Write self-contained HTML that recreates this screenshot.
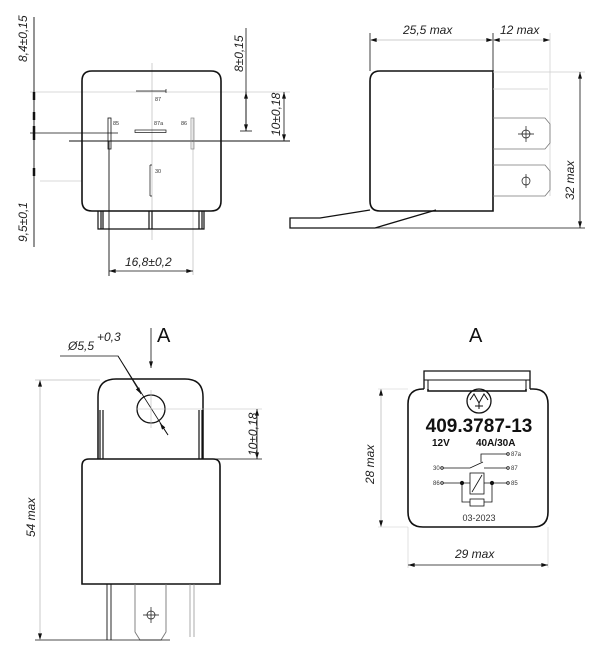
<!DOCTYPE html>
<html><head><meta charset="utf-8"><style>
html,body{margin:0;padding:0;background:#fff;}
svg{display:block;font-family:"Liberation Sans",sans-serif;}
.t{font-style:italic;font-size:12px;fill:#222;}
</style></head><body>
<svg width="600" height="658" viewBox="0 0 600 658" xmlns="http://www.w3.org/2000/svg">
<defs>
<marker id="a" viewBox="0 0 10 6" refX="10" refY="3" markerWidth="10" markerHeight="4" orient="auto-start-reverse" markerUnits="userSpaceOnUse"><path d="M0,0 L10,3 L0,6z" fill="#111"/></marker>
</defs>
<g fill="none" stroke="#111">
<!-- TOP LEFT -->
<line x1="30" y1="92" x2="290" y2="92" stroke="#ccc" stroke-width="0.7"/>
<line x1="40" y1="181" x2="82" y2="181" stroke="#ccc" stroke-width="0.7"/>
<line x1="152" y1="63" x2="152" y2="240" stroke="#bbb" stroke-width="0.7"/>
<line x1="193" y1="118" x2="193" y2="275" stroke="#bbb" stroke-width="0.7"/>
<path d="M92,71 H211 Q221,71 221,81 V201 Q221,211 211,211 H92 Q82,211 82,201 V81 Q82,71 92,71Z" stroke-width="1.6"/>
<path d="M98,211 V229 H204 V211 M101,211 V229 M103,211 V229 M149,211 V229 M152,211 V229 M199,211 V229 M202,211 V229" stroke-width="1.2"/>
<line x1="69" y1="141" x2="290" y2="141" stroke-width="1"/>
<line x1="30" y1="133" x2="118" y2="133" stroke-width="0.8"/>
<rect x="108" y="118" width="3" height="31" stroke-width="0.8"/>
<rect x="191" y="118" width="3" height="31" stroke="#888" stroke-width="0.7"/>
<rect x="135" y="130" width="31" height="2.5" stroke-width="0.7"/>
<path d="M136,91 H166 M166,89 V93" stroke-width="0.7"/>
<path d="M150,165 V196 M150,165 h2 M150,196 h2" stroke-width="0.7"/>
<line x1="34" y1="17" x2="34" y2="247" stroke-width="0.9"/>
<line x1="34" y1="92" x2="34" y2="100" stroke-width="2.5"/>
<line x1="34" y1="112" x2="34" y2="120" stroke-width="2.5"/>
<line x1="34" y1="126" x2="34" y2="140" stroke-width="2.5"/>
<line x1="34" y1="168" x2="34" y2="176" stroke-width="2.5"/>
<line x1="246" y1="28" x2="246" y2="131" stroke-width="0.8"/>
<line x1="246" y1="92" x2="246" y2="131" stroke-width="0.8" marker-start="url(#a)" marker-end="url(#a)"/>
<line x1="240" y1="131" x2="252" y2="131" stroke-width="0.8"/>
<line x1="284" y1="92" x2="284" y2="141" stroke-width="0.8" marker-start="url(#a)" marker-end="url(#a)"/>
<line x1="109" y1="141" x2="109" y2="276" stroke-width="0.9"/>
<line x1="109" y1="271" x2="193" y2="271" stroke-width="0.8" marker-start="url(#a)" marker-end="url(#a)"/>
<!-- TOP RIGHT -->
<line x1="370" y1="33" x2="370" y2="71" stroke-width="0.8"/>
<line x1="493" y1="33" x2="493" y2="71" stroke-width="0.8"/>
<line x1="550" y1="33" x2="550" y2="196" stroke="#ccc" stroke-width="0.7"/>
<line x1="370" y1="40" x2="493" y2="40" stroke="#bbb" stroke-width="0.8" marker-start="url(#a)" marker-end="url(#a)"/>
<line x1="493" y1="40" x2="550" y2="40" stroke="#bbb" stroke-width="0.8" marker-start="url(#a)" marker-end="url(#a)"/>
<path d="M380,71 H493 V211 H380 Q370,211 370,201 V81 Q370,71 380,71Z" stroke-width="1.6"/>
<line x1="493" y1="72" x2="585" y2="72" stroke="#ccc" stroke-width="0.7"/>
<line x1="493" y1="89" x2="548" y2="89" stroke="#ccc" stroke-width="0.7"/>
<path d="M493,118 H545 L550,124 V143 L545,149 H493" stroke="#777" stroke-width="0.8"/>
<path d="M493,165 H545 L550,171 V190 L545,196 H493" stroke="#777" stroke-width="0.8"/>
<circle cx="526" cy="134" r="4" stroke-width="0.7"/><path d="M518,134 h16 M526,126 v16" stroke-width="0.7"/>
<circle cx="526" cy="181" r="4" stroke-width="0.7"/><path d="M526,174 v14" stroke-width="0.7"/>
<path d="M370,210 L320,218 H290 V228 H375 L436,210" stroke-width="1.3"/>
<line x1="375" y1="228" x2="585" y2="228" stroke-width="0.8"/>
<line x1="580" y1="72" x2="580" y2="228" stroke-width="0.8" marker-start="url(#a)" marker-end="url(#a)"/>
<!-- BOTTOM LEFT -->
<line x1="151" y1="328" x2="151" y2="368" stroke-width="0.8" marker-end="url(#a)"/>
<path d="M60,356 H118 L168,435" stroke-width="0.8"/>
<line x1="118" y1="356" x2="141" y2="394" stroke-width="0.8" marker-end="url(#a)"/>
<line x1="168" y1="435" x2="160" y2="423" stroke-width="0.8" marker-end="url(#a)"/>
<path d="M98,459 V397 Q98,379 116,379 H185 Q203,379 203,397 V459" stroke-width="1.5"/>
<path d="M100,410 V459 M103,410 V459 M199,410 V459 M202,410 V459" stroke-width="1.2"/>
<circle cx="151" cy="409" r="14" stroke-width="1.3"/>
<line x1="151" y1="390" x2="151" y2="428" stroke="#bbb" stroke-width="0.6"/>
<line x1="136" y1="409" x2="262" y2="409" stroke="#bbb" stroke-width="0.6"/>
<line x1="203" y1="459" x2="262" y2="459" stroke-width="0.8"/>
<line x1="257" y1="409" x2="257" y2="459" stroke-width="0.8" marker-start="url(#a)" marker-end="url(#a)"/>
<path d="M89,459 H213 Q220,459 220,466 V584 H82 V466 Q82,459 89,459Z" stroke-width="1.6"/>
<path d="M107,584 V640 M111,584 V640" stroke-width="0.9"/>
<path d="M135,584 V632 L140,640 H161 L166,632 V584" stroke="#777" stroke-width="0.9"/>
<path d="M190,584 V637 M194,584 V637" stroke="#888" stroke-width="0.7"/>
<circle cx="151" cy="615" r="4" stroke-width="0.7"/><path d="M143,615 h16 M151,607 v16" stroke-width="0.7"/>
<line x1="35" y1="380" x2="100" y2="380" stroke="#bbb" stroke-width="0.7"/>
<line x1="35" y1="640" x2="170" y2="640" stroke-width="0.8"/>
<line x1="40" y1="380" x2="40" y2="640" stroke="#bbb" stroke-width="0.8" marker-start="url(#a)" marker-end="url(#a)"/>
<!-- BOTTOM RIGHT -->
<path d="M424,389 V371 H530 V389" stroke-width="1.3"/>
<path d="M424,380 H530 M428,389 V380 M526,389 V380" stroke-width="1"/>
<path d="M424,389 H423 Q408,389 408,404 V512 Q408,527 423,527 H533 Q548,527 548,512 V404 Q548,389 533,389 H530 M428,389 V391 H526 V389" stroke-width="1.6"/>
<circle cx="479" cy="401" r="12" stroke-width="1.3"/>
<path d="M470,400 L474,394 L479,403 L484,394 L488,400 M479,403 V409 M475,406 H483" stroke-width="1"/>
<line x1="381" y1="389" x2="381" y2="527" stroke="#bbb" stroke-width="0.8" marker-start="url(#a)" marker-end="url(#a)"/>
<line x1="378" y1="389" x2="408" y2="389" stroke="#ccc" stroke-width="0.6"/>
<line x1="378" y1="527" x2="408" y2="527" stroke="#ccc" stroke-width="0.6"/>
<line x1="408" y1="527" x2="408" y2="568" stroke="#ccc" stroke-width="0.6"/>
<line x1="548" y1="527" x2="548" y2="568" stroke="#ccc" stroke-width="0.6"/>
<line x1="408" y1="565" x2="548" y2="565" stroke-width="0.8" marker-start="url(#a)" marker-end="url(#a)"/>
<g stroke-width="0.8">
<path d="M481,462 V454 H507 M443,468 H470 L483,462 M484,468 H507 M443,483 H470 M484,483 H507 M462,483 V502 H470 M492,483 V502 H484"/>
<rect x="470" y="473" width="14" height="21"/><path d="M472,492 L482,475"/>
<rect x="470" y="499" width="14" height="7"/>
<circle cx="442" cy="468" r="1.3"/><circle cx="508" cy="468" r="1.3"/><circle cx="508" cy="454" r="1.3"/><circle cx="442" cy="483" r="1.3"/><circle cx="508" cy="483" r="1.3"/>
</g>
<circle cx="462" cy="483" r="1.6" fill="#111"/><circle cx="492" cy="483" r="1.6" fill="#111"/>
</g>
<g>
<text class="t" transform="translate(27,62) rotate(-90)" font-size="13">8,4±0,15</text>
<text class="t" transform="translate(27,242) rotate(-90)" font-size="13">9,5±0,1</text>
<text class="t" transform="translate(243,72) rotate(-90)" font-size="13">8±0,15</text>
<text class="t" transform="translate(280,136) rotate(-90)" font-size="13">10±0,18</text>
<text class="t" x="125" y="266" font-size="13">16,8±0,2</text>
<text x="113" y="125" font-size="5.5" fill="#333">85</text>
<text x="155" y="101" font-size="5.5" fill="#333">87</text>
<text x="154" y="125" font-size="5.5" fill="#333">87a</text>
<text x="181" y="125" font-size="5.5" fill="#333">86</text>
<text x="155" y="173" font-size="5.5" fill="#333">30</text>
<text class="t" x="403" y="34" font-size="13">25,5 max</text>
<text class="t" x="500" y="34" font-size="13">12 max</text>
<text class="t" transform="translate(574,200) rotate(-90)" font-size="13">32 max</text>
<text x="157" y="342" font-size="20" fill="#111">A</text>
<text class="t" x="68" y="350" font-size="11">Ø5,5</text>
<text class="t" x="97" y="341" font-size="6">+0,3</text>
<text class="t" transform="translate(257,456) rotate(-90)" font-size="12">10±0,18</text>
<text class="t" transform="translate(35,537) rotate(-90)" font-size="13">54 max</text>
<text x="469" y="342" font-size="20" fill="#111">A</text>
<text x="479" y="432" font-size="19" font-weight="bold" text-anchor="middle" fill="#111">409.3787-13</text>
<text x="432" y="446" font-size="10" font-weight="bold" fill="#111">12V</text>
<text x="476" y="446" font-size="10" font-weight="bold" fill="#111">40A/30A</text>
<g font-size="6" fill="#333"><text x="433" y="470">30</text><text x="433" y="485">86</text><text x="511" y="456">87a</text><text x="511" y="470">87</text><text x="511" y="485">85</text></g>
<text x="479" y="521" font-size="9" text-anchor="middle" fill="#333">03-2023</text>
<text class="t" transform="translate(374,484) rotate(-90)" font-size="13">28 max</text>
<text class="t" x="455" y="558" font-size="13">29 max</text>
</g>
</svg>
</body></html>
